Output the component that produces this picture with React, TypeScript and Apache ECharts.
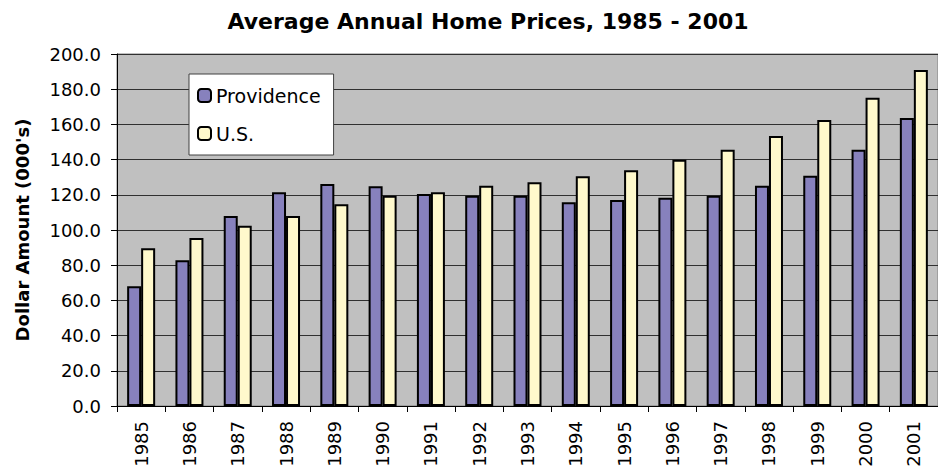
import React, { useEffect, useRef } from "react";
import * as echarts from "echarts";

const years = ["1985","1986","1987","1988","1989","1990","1991","1992","1993","1994","1995","1996","1997","1998","1999","2000","2001"];
const providence = [68.1, 82.8, 107.9, 121.5, 126.1, 124.9, 120.4, 119.4, 119.4, 115.8, 117.0, 118.3, 119.4, 125.1, 130.8, 145.6, 163.6];
const us = [89.7, 95.5, 102.4, 107.9, 114.7, 119.4, 121.5, 125.1, 127.2, 130.6, 134.0, 139.9, 145.6, 153.4, 162.5, 175.2, 190.9];
const titleText = "Average Annual Home Prices, 1985 - 2001";
const yTitle = "Dollar Amount (000's)";

const FONT = "'DejaVu Sans', 'Liberation Sans', Arial, sans-serif";

export default function App() {
  const ref = useRef<HTMLDivElement>(null);
  useEffect(() => {
    if (!ref.current) return;
    const chart = echarts.init(ref.current, null, { renderer: "svg" });
    chart.setOption({
      animation: false,
      backgroundColor: "#ffffff",
      graphic: [
        {
          type: "text",
          x: 488,
          y: 21,
          style: {
            text: titleText,
            fill: "#000",
            font: `bold 22px ${FONT}`,
            textAlign: "center",
            textVerticalAlign: "middle",
          },
        },
      ],
      legend: {
        orient: "vertical",
        left: 189,
        top: 74,
        padding: [12, 13, 12, 8],
        itemGap: 19,
        itemWidth: 13,
        itemHeight: 13,
        backgroundColor: "#ffffff",
        borderColor: "#404040",
        borderWidth: 1,
        textStyle: { fontFamily: FONT, fontSize: 19, color: "#000" },
        data: ["Providence", "U.S."],
      },
      grid: {
        left: 117,
        top: 54,
        width: 833,
        height: 352,
        show: true,
        backgroundColor: "#c0c0c0",
        borderColor: "#808080",
        borderWidth: 1,
      },
      xAxis: {
        type: "category",
        data: years,
        axisLine: { show: true, lineStyle: { color: "#000", width: 1 } },
        axisTick: { show: true, length: 6, lineStyle: { color: "#000" } },
        axisLabel: {
          rotate: 90,
          margin: 15,
          fontFamily: FONT,
          fontSize: 18,
          color: "#000",
        },
      },
      yAxis: {
        type: "value",
        min: 0,
        max: 200,
        interval: 20,
        name: yTitle,
        nameLocation: "middle",
        nameRotate: 90,
        nameGap: 86,
        nameTextStyle: { fontFamily: FONT, fontSize: 18, fontWeight: "bold", color: "#000" },
        axisLine: { show: true, lineStyle: { color: "#000", width: 1 } },
        axisTick: { show: true, length: 6, lineStyle: { color: "#000" } },
        axisLabel: {
          margin: 16,
          fontFamily: FONT,
          fontSize: 18,
          color: "#000",
          formatter: (v: number) => v.toFixed(1),
        },
        splitLine: { show: true, lineStyle: { color: "#303030", width: 1 } },
      },
      series: [
        {
          name: "Providence",
          type: "bar",
          data: providence,
          barWidth: 14,
          barGap: "0%",
          itemStyle: { color: "#8781bd", borderColor: "#000", borderWidth: 2 },
        },
        {
          name: "U.S.",
          type: "bar",
          data: us,
          barWidth: 14,
          barGap: "0%",
          itemStyle: { color: "#fff9cc", borderColor: "#000", borderWidth: 2 },
        },
      ],
    });
    return () => chart.dispose();
  }, []);
  return (
    <div
      ref={ref}
      style={{ position: "fixed", left: 0, top: 0, width: 938, height: 470 }}
    />
  );
}
